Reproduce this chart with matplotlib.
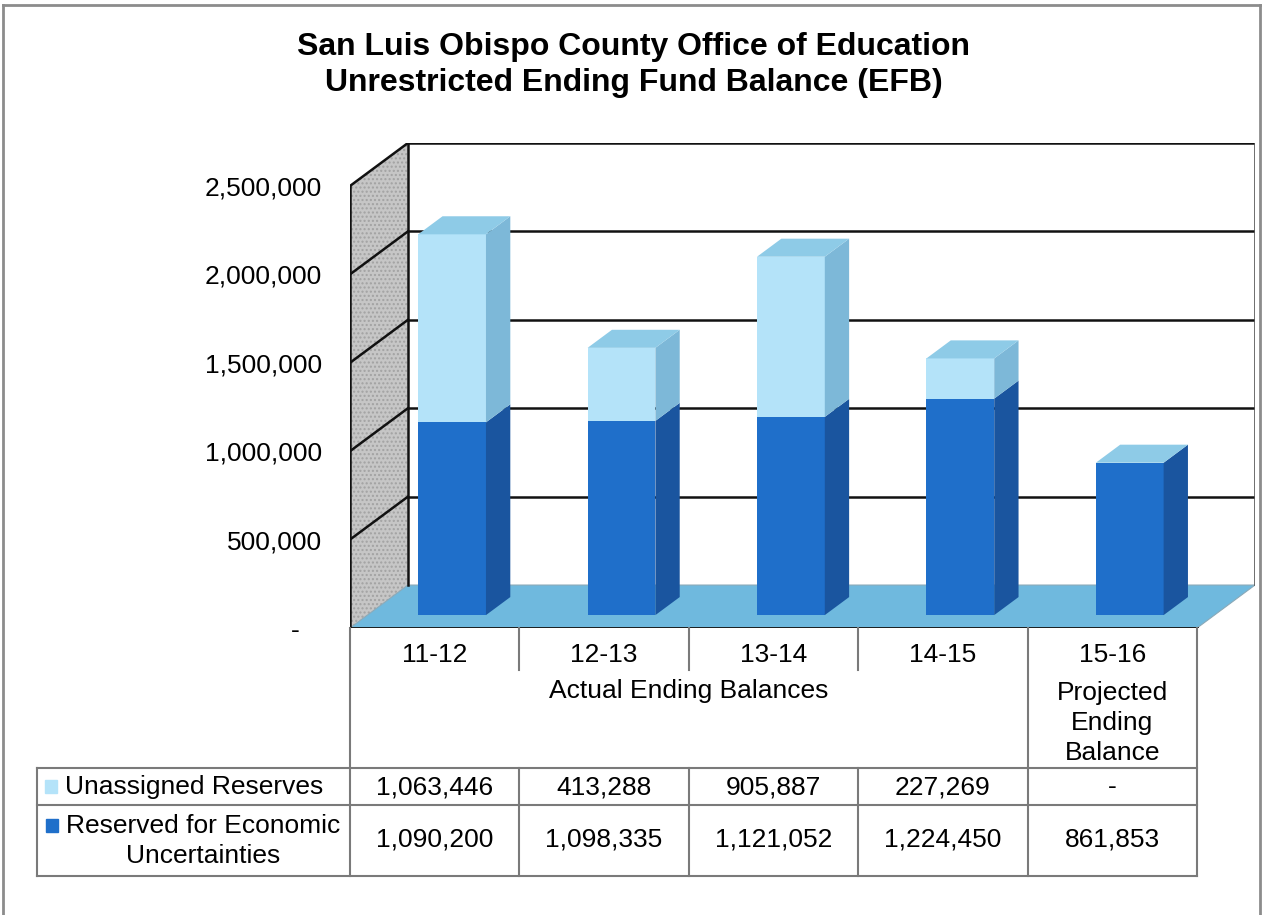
import matplotlib

matplotlib.use("Agg")

import matplotlib.pyplot as plt
from matplotlib.lines import Line2D
from matplotlib.patches import Polygon, Rectangle

plt.rcParams["font.family"] = ["Liberation Sans", "DejaVu Sans"]

# data
periods = ["11-12", "12-13", "13-14", "14-15", "15-16"]
unassigned = [1063446, 413288, 905887, 227269, 0]
reserved = [1090200, 1098335, 1121052, 1224450, 861853]
series_names = ["Unassigned Reserves", "Reserved for Economic\nUncertainties"]
y_ticks = [0, 500000, 1000000, 1500000, 2000000, 2500000]
y_tick_labels = ["-   ", "500,000", "1,000,000", "1,500,000", "2,000,000", "2,500,000"]
title = "San Luis Obispo County Office of Education\nUnrestricted Ending Fund Balance (EFB)"

# colours
LIGHT_FRONT, LIGHT_SIDE, LIGHT_TOP = "#b4e3f9", "#7db8d8", "#8ecbe7"
DARK_FRONT, DARK_SIDE = "#1f6fca", "#1a559f"
FLOOR = "#6fb9de"
WALL = "#c6c6c6"
GRID = "#111111"
TABLE_LINE = "#7a7a7a"

W, H = 1265, 915


def fx(p):
    return p / W


def fy(p):
    return 1 - p / H


# 3d depth of the plot box (data units) and bar placement inside it
DX, DY = 0.342, 243000
F0, FD = 0.30, 0.42
BAR_W = 0.40
YMAX = y_ticks[-1]

fig = plt.figure(figsize=(W / 100, H / 100), dpi=100)
ax = fig.add_axes([fx(350), fy(628), fx(1255) - fx(350), fy(143) - fy(628)])
ax.set_xlim(-0.5, len(periods) - 0.5 + DX)
ax.set_ylim(0, YMAX + DY)
ax.patch.set_visible(False)
for s in ax.spines.values():
    s.set_visible(False)
ax.set_xticks([])
ax.set_yticks(y_ticks, y_tick_labels)
ax.tick_params(axis="y", length=0, pad=20, labelsize=19)

x0, x1 = -0.5, len(periods) - 0.5

# side wall and floor
ax.add_patch(Polygon([(x0, 0), (x0 + DX, DY), (x0 + DX, YMAX + DY), (x0, YMAX)],
                     facecolor=WALL, edgecolor="#a2a2a2", hatch="....", lw=0, zorder=1))
ax.add_patch(Polygon([(x0, 0), (x1, 0), (x1 + DX, DY), (x0 + DX, DY)],
                     facecolor=FLOOR, edgecolor="#8aa9b8", lw=0.8, zorder=1))

# grid on back wall and side wall
for t in y_ticks[1:]:
    ax.plot([x0 + DX, x1 + DX], [t + DY, t + DY], color=GRID, lw=1.8, zorder=2)
    ax.plot([x0, x0 + DX], [t, t + DY], color=GRID, lw=1.8, zorder=2)
ax.plot([x0 + DX, x0 + DX], [DY, YMAX + DY], color=GRID, lw=1.8, zorder=2)
ax.plot([x1 + DX, x1 + DX], [DY, YMAX + DY], color="#555555", lw=1.2, zorder=2)
ax.plot([x0, x0], [0, YMAX], color=GRID, lw=1.8, zorder=6)
ax.plot([x0, x1], [0, 0], color=GRID, lw=2, zorder=6)

# bars
xs = list(range(len(periods)))
bx = [x + F0 * DX for x in xs]
by = F0 * DY
ax.bar(bx, reserved, bottom=by, width=BAR_W, color=DARK_FRONT, zorder=3)
ax.bar(bx, unassigned, bottom=[by + r for r in reserved], width=BAR_W,
       color=LIGHT_FRONT, zorder=3)

for x, r, u in zip(bx, reserved, unassigned):
    xl, xr = x - BAR_W / 2, x + BAR_W / 2
    ddx, ddy = FD * DX, FD * DY
    for lo, hi, col in [(0, r, DARK_SIDE), (r, r + u, LIGHT_SIDE)]:
        if hi > lo:
            ax.add_patch(Polygon([(xr, lo + by), (xr + ddx, lo + by + ddy),
                                  (xr + ddx, hi + by + ddy), (xr, hi + by)],
                                 facecolor=col, lw=0, zorder=3))
    top = r + u + by
    ax.add_patch(Polygon([(xl, top), (xr, top), (xr + ddx, top + ddy), (xl + ddx, top + ddy)],
                         facecolor=LIGHT_TOP, lw=0, zorder=3))

# title
fig.text(0.501, fy(65), title, ha="center", va="center", fontsize=23,
         fontweight="bold", linespacing=1.22)

# data table
col_px = [ax.transData.transform((x0 + i, 0))[0] for i in range(len(periods) + 1)]
label_left = 37
row_y = [628, 768, 805, 876]


def hline(xa, xb, y):
    fig.add_artist(Line2D([fx(xa), fx(xb)], [fy(y), fy(y)], color=TABLE_LINE, lw=1.5))


def vline(x, ya, yb):
    fig.add_artist(Line2D([fx(x), fx(x)], [fy(ya), fy(yb)], color=TABLE_LINE, lw=1.5))


for y in row_y[1:]:
    hline(label_left, col_px[-1], y)
vline(label_left, row_y[1], row_y[3])
vline(col_px[0], row_y[0], row_y[3])
for i in range(1, len(periods) - 1):
    vline(col_px[i], row_y[0], 670)
    vline(col_px[i], row_y[1], row_y[3])
vline(col_px[-2], row_y[0], row_y[3])
vline(col_px[-1], row_y[0], row_y[3])

fs = 19
for i, p in enumerate(periods):
    cx = (col_px[i] + col_px[i + 1]) / 2
    fig.text(fx(cx), fy(655), p, ha="center", va="center", fontsize=fs)
    fig.text(fx(cx), fy(787), f"{unassigned[i]:,}" if unassigned[i] else "-",
             ha="center", va="center", fontsize=fs)
    fig.text(fx(cx), fy(840), f"{reserved[i]:,}", ha="center", va="center", fontsize=fs)

fig.text(fx(col_px[2]), fy(691), "Actual Ending Balances", ha="center", va="center", fontsize=fs)
fig.text(fx((col_px[-2] + col_px[-1]) / 2), fy(723), "Projected\nEnding\nBalance",
         ha="center", va="center", fontsize=fs, linespacing=1.32)

# legend keys and row labels
fig.add_artist(Rectangle((fx(45), fy(793)), fx(12), 13 / H, color=LIGHT_FRONT))
fig.add_artist(Rectangle((fx(46), fy(832)), fx(12), 13 / H, color=DARK_FRONT))
fig.text(fx(65), fy(787), series_names[0], ha="left", va="center", fontsize=fs)
fig.text(fx(203), fy(841), series_names[1], ha="center", va="center", fontsize=fs,
         linespacing=1.3)

# chart border
for xa, ya, xb, yb in [(3, 5, 1260, 5), (3, 5, 3, 915), (1260, 5, 1260, 915)]:
    fig.add_artist(Line2D([fx(xa), fx(xb)], [fy(ya), fy(yb)], color="#8c8c8c", lw=2))

fig.savefig("out.png", dpi=100)
